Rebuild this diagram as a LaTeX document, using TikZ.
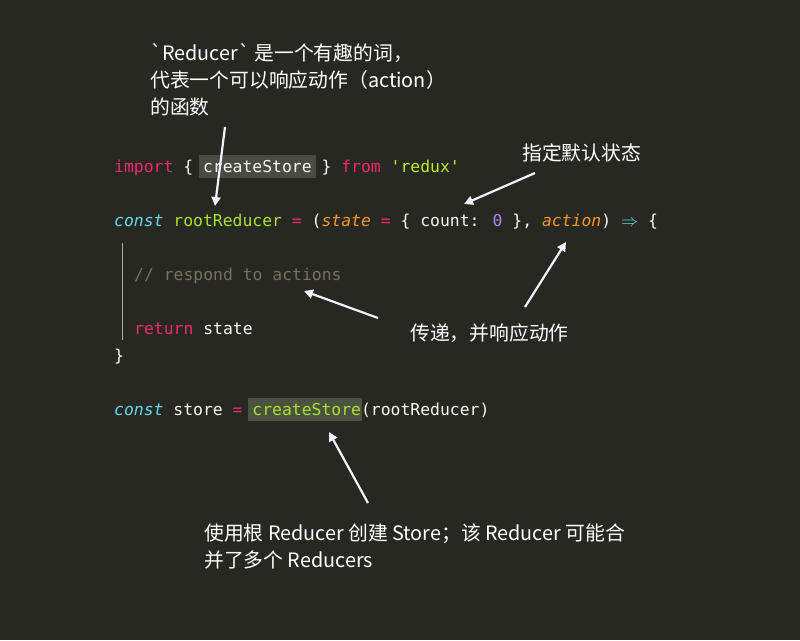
\documentclass[tikz,border=0pt]{standalone}
\usepackage{fontspec}
\newfontfamily\code{DejaVu Sans Mono}[WordSpace={1,0,0}]
\newfontfamily\cjk{Noto Sans CJK SC}
\usetikzlibrary{arrows.meta}
\definecolor{bg}{HTML}{272822}
\definecolor{kpink}{HTML}{F92672}
\definecolor{kgreen}{HTML}{A6E22E}
\definecolor{kcyan}{HTML}{66D9EF}
\definecolor{korange}{HTML}{FD971F}
\definecolor{kpurple}{HTML}{AE81FF}
\definecolor{kcom}{HTML}{75715E}
\definecolor{kwhite}{HTML}{F8F8F2}
\definecolor{arr}{HTML}{F4F0FF}
\definecolor{hlgray}{HTML}{4A4A45}
\definecolor{hlgreen}{HTML}{4B5340}
\begin{document}
\begin{tikzpicture}[x=1pt,y=-1pt,
  codeline/.style={anchor=base west,inner sep=0pt,font=\code\fontsize{16.4}{20}\selectfont,text=kwhite},
  note/.style={anchor=base west,inner sep=0pt,font=\cjk\fontsize{19.8}{27}\selectfont,text=white,align=left},
  pointer/.style={draw=arr,line width=2.2pt,-{Triangle[length=9pt,width=9pt]}}]
\fill[bg] (0,0) rectangle (800,640);
\useasboundingbox (0,0) rectangle (800,640);
% highlights
\fill[hlgray] (199,155) rectangle (316,178);
\fill[hlgreen] (248,398) rectangle (362,421);
\draw[kcom!60,line width=1pt] (122,243) -- (122,340);
% code
\node[codeline] (l1) at (114,172) {\textcolor{kpink}{import} \{ createStore \} \textcolor{kpink}{from} \textcolor{kgreen!70!yellow}{'redux'}};
\node[codeline] (l2) at (114,226) {\textcolor{kcyan}{\itshape const} \textcolor{kgreen}{rootReducer} \textcolor{kpink}{=} (\textcolor{korange}{\itshape state} \textcolor{kpink}{=} \{ count: \textcolor{kpurple}{0} \}, \textcolor{korange}{\itshape action}) \textcolor{kcyan}{$\Rightarrow$} \{};
\node[codeline] (l3) at (134,280) {\textcolor{kcom}{// respond to actions}};
\node[codeline] (l4) at (134,334) {\textcolor{kpink}{return} state};
\node[codeline] (l5) at (114,361) {\}};
\node[codeline] (l6) at (114,415) {\textcolor{kcyan}{\itshape const} store \textcolor{kpink}{=} \textcolor{kgreen}{createStore}(rootReducer)};
% notes (base = last line)
\node[note] (n1) at (150,114) {`Reducer` 是一个有趣的词，\\代表一个可以响应动作（action）\\的函数};
\node[note] (n2) at (522,160) {指定默认状态};
\node[note] (n3) at (410,340) {传递，并响应动作};
\node[note] (n4) at (204,567) {使用根 Reducer 创建 Store；该 Reducer 可能合\\并了多个 Reducers};
% arrows
\coordinate (a1s) at (225,127); \coordinate (a1e) at (215,206);
\coordinate (a2s) at (535,173); \coordinate (a2e) at (464,204);
\coordinate (a3s) at (378,318); \coordinate (a3e) at (304,291);
\coordinate (a4s) at (525,307); \coordinate (a4e) at (566,242);
\coordinate (a5s) at (368,503); \coordinate (a5e) at (329,432);
\draw[pointer] (a1s) -- (a1e);
\draw[pointer] (a2s) -- (a2e);
\draw[pointer] (a3s) -- (a3e);
\draw[pointer] (a4s) -- (a4e);
\draw[pointer] (a5s) -- (a5e);
\end{tikzpicture}
\end{document}
